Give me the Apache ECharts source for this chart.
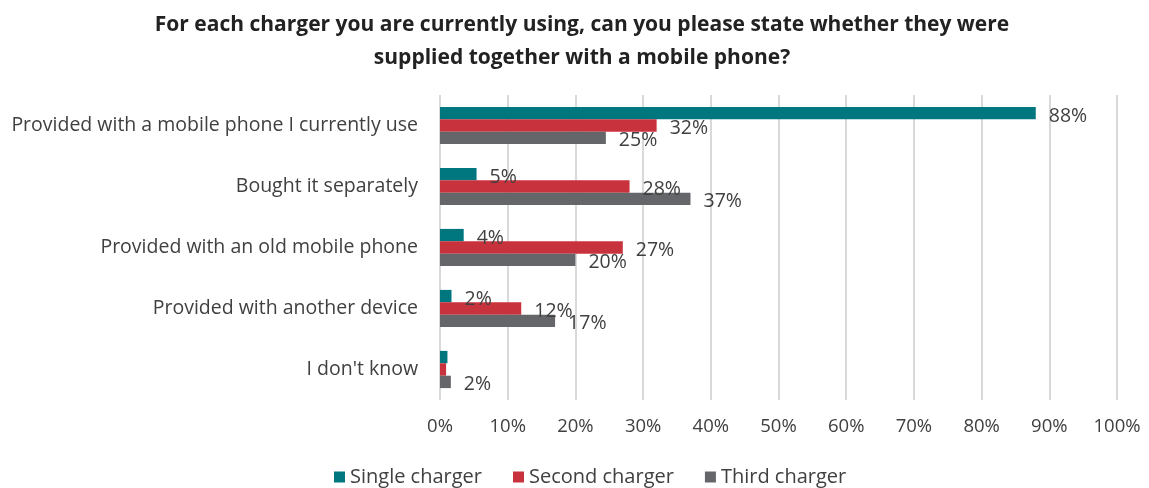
<!DOCTYPE html>
<html>
<head>
<meta charset="utf-8">
<script src="https://cdn.jsdelivr.net/npm/echarts@6/dist/echarts.min.js"></script>
<style>html,body{margin:0;padding:0;background:#fff;}#c{width:1149px;height:488px;}</style>
</head>
<body>
<div id="c"></div>
<script>
const titleText = "For each charger you are currently using, can you please state whether they were\nsupplied together with a mobile phone?";
const categories = ["Provided with a mobile phone I currently use", "Bought it separately", "Provided with an old mobile phone", "Provided with another device", "I don't know"];
const seriesNames = ["Single charger", "Second charger", "Third charger"];
const singleCharger = [88, 5.4, 3.5, 1.7, 1.1];
const secondCharger = [32, 28, 27, 12, 0.9];
const thirdCharger = [24.5, 37, 20, 17, 1.6];
const colors = ["#00767F", "#C8323C", "#646669"];
const xTicks = [0, 10, 20, 30, 40, 50, 60, 70, 80, 90, 100];

const FONT = "Open Sans";
const chart = echarts.init(document.getElementById('c'), null, {renderer: 'canvas'});
const values = [singleCharger, secondCharger, thirdCharger];
const series = seriesNames.map((n, i) => ({
  name: n,
  type: 'bar',
  data: values[i],
  barGap: '0%',
  barCategoryGap: '39%',
  itemStyle: {color: colors[i]},
  label: {
    show: true,
    position: 'right',
    distance: 13,
    offset: [0, 3],
    color: '#404040',
    fontFamily: FONT,
    fontSize: 19.5,
    formatter: p => (Math.round(p.value) >= 2 ? Math.round(p.value) + '%' : '')
  }
}));
chart.setOption({
  animation: false,
  color: colors,
  title: {
    text: titleText,
    left: 577,
    textAlign: 'center',
    top: 4,
    textStyle: {fontFamily: FONT, fontWeight: 'bold', fontSize: 21, color: '#222', lineHeight: 33}
  },
  legend: {
    data: seriesNames,
    top: 462,
    left: 329,
    itemWidth: 11,
    itemHeight: 11,
    itemGap: 31,
    itemStyle: {borderWidth: 0},
    icon: 'rect',
    textStyle: {fontFamily: FONT, fontSize: 20, color: '#404040', padding: [0, 0, 0, 0]}
  },
  grid: {left: 440, right: 32, top: 95, bottom: 88, containLabel: false},
  xAxis: {
    type: 'value',
    min: 0, max: 100, interval: 10,
    axisLine: {show: false},
    axisTick: {show: false},
    splitLine: {show: true, lineStyle: {color: '#d9d9d9', width: 2}},
    axisLabel: {formatter: v => v + '%', fontFamily: FONT, fontSize: 18.5, color: '#404040', margin: 17}
  },
  yAxis: {
    type: 'category',
    data: categories,
    inverse: true,
    axisLine: {show: false},
    axisTick: {show: false},
    axisLabel: {fontFamily: FONT, fontSize: 19.5, color: '#404040', margin: 22}
  },
  series: series
});
</script>
</body>
</html>
